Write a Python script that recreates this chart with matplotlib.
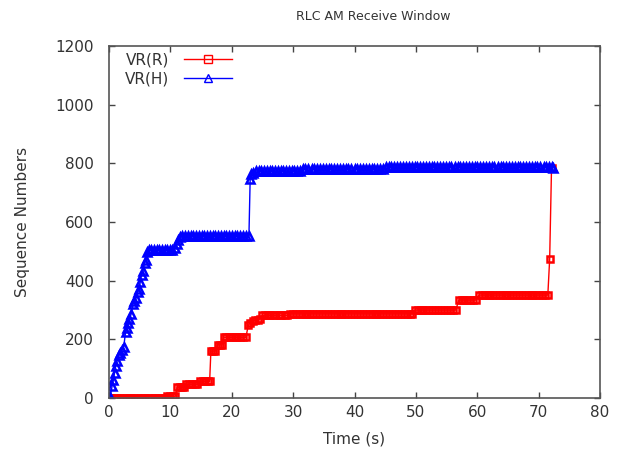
import matplotlib

matplotlib.use("Agg")
import matplotlib.pyplot as plt

# VR(R): lower edge of the receive window
vrr_t = [
    0.0, 0.4, 0.9, 1.3, 1.8, 2.3, 2.7, 3.2, 3.6, 4.1, 4.5, 5.0, 5.5, 5.9, 6.4, 6.8, 7.3, 7.7, 8.2, 8.7, 9.1,
    9.5, 9.9, 10.4, 10.8,
    11.1, 11.5, 11.9, 12.3,
    12.6, 13.1, 13.5, 14.0, 14.4,
    14.8, 15.3, 15.7, 16.2, 16.4,
    16.6, 17.0, 17.3,
    17.7, 18.1, 18.4,
    18.7, 19.1, 19.6, 20.0, 20.5, 20.9, 21.4, 21.8, 22.3,
    22.7, 23.0, 23.4, 23.8, 24.2, 24.6,
    25.0, 25.4, 25.9, 26.3, 26.8, 27.2, 27.7, 28.1, 28.6, 29.0,
    29.5, 30.0, 30.4, 30.9, 31.4, 31.9, 32.3, 32.8, 33.3, 33.8, 34.2, 34.7, 35.2, 35.7, 36.1,
    36.6, 37.1, 37.6, 38.0, 38.5, 39.0, 39.5, 39.9, 40.4, 40.9, 41.4, 41.8, 42.3, 42.8, 43.3,
    43.7, 44.2, 44.7, 45.2, 45.6, 46.1, 46.6, 47.1, 47.5, 48.0, 48.5, 49.0, 49.4,
    49.8, 50.3, 50.8, 51.2, 51.7, 52.2, 52.7, 53.1, 53.6, 54.1, 54.6, 55.0, 55.5, 56.0, 56.5,
    57.0, 57.5, 57.9, 58.4, 58.9, 59.3, 59.8,
    60.3, 60.7, 61.2, 61.7, 62.1, 62.6, 63.1, 63.5, 64.0, 64.5, 64.9, 65.4, 65.9, 66.3, 66.8,
    67.3, 67.7, 68.2, 68.7, 69.1, 69.6, 70.1, 70.5, 71.0, 71.5,
    71.8, 72.1,
]
vrr_v = [
    0, 0, 0, 0, 0, 0, 0, 0, 0, 0, 0, 0, 0, 0, 0, 0, 0, 0, 0, 0, 0,
    6, 6, 6, 6,
    37, 37, 37, 37,
    47, 47, 47, 47, 47,
    57, 57, 57, 57, 57,
    160, 160, 160,
    182, 182, 182,
    207, 207, 207, 207, 207, 207, 207, 207, 207,
    248, 256, 262, 265, 267, 270,
    282, 282, 282, 282, 282, 282, 282, 282, 282, 282,
    287, 287, 287, 287, 287, 287, 287, 287, 287, 287, 287, 287, 287, 287, 287,
    287, 287, 287, 287, 287, 287, 287, 287, 287, 287, 287, 287, 287, 287, 287,
    287, 287, 287, 287, 287, 287, 287, 287, 287, 287, 287, 287, 287,
    300, 300, 300, 300, 300, 300, 300, 300, 300, 300, 300, 300, 300, 300, 300,
    334, 334, 334, 334, 334, 334, 334,
    351, 351, 351, 351, 351, 351, 351, 351, 351, 351, 351, 351, 351, 351, 351,
    351, 351, 351, 351, 351, 351, 351, 351, 351, 351,
    474, 784,
]

# VR(H): highest received sequence number
vrh_t = [
    0.0, 0.2, 0.5, 0.7, 0.9, 1.1, 1.3, 1.6, 1.8, 2.1, 2.4, 2.7, 2.9, 3.1, 3.3, 3.6, 3.9, 4.1,
    4.4, 4.7, 4.9, 5.1, 5.3, 5.5, 5.8, 6.0, 6.2,
    6.5, 6.9, 7.3, 7.8, 8.2, 8.6, 9.1, 9.5, 9.9, 10.3,
    10.7, 11.0, 11.3, 11.6,
    11.9, 12.4, 12.8, 13.3, 13.7, 14.2, 14.6, 15.1, 15.5, 16.0, 16.4, 16.9, 17.3, 17.8, 18.2,
    18.7, 19.1, 19.6, 20.0, 20.5, 20.9, 21.4, 21.8, 22.3, 22.8,
    23.0, 23.2, 23.5,
    23.9, 24.4, 24.8, 25.3, 25.7, 26.2, 26.6, 27.1, 27.5, 28.0, 28.4, 28.9, 29.3, 29.8, 30.2,
    30.7, 31.1,
    31.6, 32.0, 32.5, 33.0, 33.4, 33.9, 34.4, 34.8, 35.3, 35.8, 36.2, 36.7, 37.2, 37.6, 38.1,
    38.6, 39.0, 39.5, 40.0, 40.4, 40.9, 41.4, 41.8, 42.3, 42.8, 43.2, 43.7, 44.2, 44.6,
    45.1, 45.6, 46.0, 46.5, 47.0, 47.4, 47.9, 48.4, 48.8, 49.3, 49.8, 50.2, 50.7, 51.2, 51.6,
    52.1, 52.6, 53.0, 53.5, 54.0, 54.4, 54.9, 55.4, 55.8, 56.3, 56.8, 57.2, 57.7, 58.2, 58.6,
    59.1, 59.6, 60.0, 60.5, 61.0, 61.4, 61.9, 62.4, 62.8, 63.3, 63.8, 64.2, 64.7, 65.2, 65.6,
    66.1, 66.6, 67.0, 67.5, 68.0, 68.4, 68.9, 69.4, 69.8, 70.3, 70.8, 71.2, 71.7, 72.1,
    72.3,
]
vrh_v = [
    0, 5, 40, 60, 85, 110, 125, 145, 155, 165, 175, 225, 240, 255, 270, 285, 320, 332,
    340, 362, 372, 395, 420, 432, 460, 472, 498,
    505, 505, 505, 505, 505, 505, 505, 505, 505, 505,
    512, 525, 540, 548,
    553, 553, 553, 553, 553, 553, 553, 553, 553, 553, 553, 553, 553, 553, 553,
    553, 553, 553, 553, 553, 553, 553, 553, 553, 553,
    745, 762, 768,
    774, 774, 774, 774, 774, 774, 774, 774, 774, 774, 774, 774, 774, 774, 774,
    774, 774,
    781, 781, 781, 781, 781, 781, 781, 781, 781, 781, 781, 781, 781, 781, 781,
    781, 781, 781, 781, 781, 781, 781, 781, 781, 781, 781, 781, 781, 781,
    788, 788, 788, 788, 788, 788, 788, 788, 788, 788, 788, 788, 788, 788, 788,
    788, 788, 788, 788, 788, 788, 788, 788, 788, 788, 788, 788, 788, 788, 788,
    788, 788, 788, 788, 788, 788, 788, 788, 788, 788, 788, 788, 788, 788, 788,
    788, 788, 788, 788, 788, 788, 788, 788, 788, 788, 788, 788, 788, 788,
    785,
]

x_ticks = [0, 10, 20, 30, 40, 50, 60, 70, 80]
y_ticks = [0, 200, 400, 600, 800, 1000, 1200]

TEXT = "#333333"

plt.rcParams["font.family"] = "DejaVu Sans"
plt.rcParams["font.size"] = 11

fig = plt.figure(figsize=(6.23, 4.57), dpi=100)
ax = fig.add_axes([109 / 623, 1 - 398 / 457, 491 / 623, 352 / 457])

ax.plot(vrr_t, vrr_v, color="#ff0000", lw=1.0, marker="s", ms=5.0, mfc="none",
        mec="#ff0000", mew=1.8, label="VR(R)")
ax.plot(vrh_t, vrh_v, color="#0000ff", lw=1.0, marker="^", ms=6, mfc="none",
        mec="#0000ff", mew=1.8, label="VR(H)")

ax.set_xlim(0, 80)
ax.set_ylim(0, 1200)
ax.set_xticks(x_ticks)
ax.set_yticks(y_ticks)
ax.tick_params(direction="in", length=4, width=1, color="#444444", labelcolor=TEXT,
               top=True, right=True)
ax.tick_params(axis="y", pad=11)
ax.tick_params(axis="x", pad=5)
for sp in ax.spines.values():
    sp.set_color("#555555")
    sp.set_linewidth(1.2)

ax.set_xlabel("Time (s)", color=TEXT, labelpad=8)
ax.set_ylabel("Sequence Numbers", color=TEXT, labelpad=18)
fig.text(373 / 623, 1 - 16 / 457, "RLC AM Receive Window", ha="center", va="center",
         color=TEXT, fontsize=9)

leg = ax.legend(loc="upper left", bbox_to_anchor=(0.02, 1.0), frameon=False,
                markerfirst=False, handlelength=3.1, numpoints=1, labelspacing=0.28,
                handletextpad=1.0, borderaxespad=0.0)
# thin markers in the key, like a single sample point
for handle in leg.legend_handles:
    handle.set_markeredgewidth(1.0)
    handle.set_markersize(6)
for txt in leg.get_texts():
    txt.set_color(TEXT)

fig.savefig("out.png", dpi=100)
